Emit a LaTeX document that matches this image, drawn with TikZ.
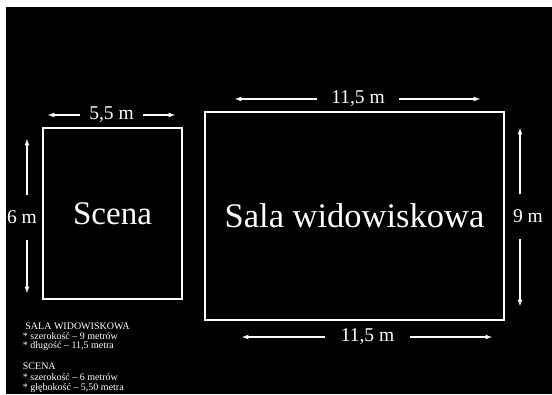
\documentclass[tikz,border=0pt]{standalone}
\usepackage{fontspec}
\setmainfont{Liberation Serif}
\usetikzlibrary{calc}

\begin{document}
\begin{tikzpicture}[x=1pt,y=-1pt,white,line width=1.2pt]
%
%''''''''''''''''''''''''''''Fonts''''''''''''''''''''''''''''''''''''''''''''''''''''''''
\def\scenafont{\fontsize{33}{38}\selectfont}
\def\salafont{\fontsize{34.5}{38}\selectfont}
\def\dimfont{\fontsize{19.5}{22}\selectfont}
\def\notefont{\fontsize{10}{12}\selectfont}
%''''''''''''''''''''''''''''''''''''''''''''''''''''''''''''''''''''''''''''''''''''''''''
%
% background
\fill[white](0,0)rectangle(552,394);
\fill[black](6,7)rectangle(552,394);
\useasboundingbox(0,0)rectangle(552,394);
%
% stage and hall
\node[draw,line width=1.5pt,minimum width=139pt,minimum height=171pt,font=\scenafont](scena) at (112.5,213.5){Scena};
\node[draw,line width=1.5pt,minimum width=299pt,minimum height=208pt,font=\salafont](sala) at (354.5,216){Sala widowiskowa};
%
% stage width
\node[font=\dimfont,inner xsep=8.5pt](scenaw) at (111.5,115){5,5 m};
\coordinate (scenawl) at (48,115);
\coordinate (scenawr) at (175,115);
\draw[-latex](scenaw.west)--(scenawl);
\draw[-latex](scenaw.east)--(scenawr);
%
% stage depth
\node[font=\dimfont,inner ysep=15pt](scenah) at (22,217.5){6 m};
\coordinate (scenaht) at (27,139);
\coordinate (scenahb) at (27,293);
\draw[-latex](scenah.north -| scenaht)--(scenaht);
\draw[-latex](scenah.south -| scenahb)--(scenahb);
%
% hall width (top)
\node[font=\dimfont,inner xsep=14pt](salawt) at (358,99){11,5 m};
\coordinate (salawtl) at (235,99);
\coordinate (salawtr) at (480,99);
\draw[-latex](salawt.west)--(salawtl);
\draw[-latex](salawt.east)--(salawtr);
%
% hall width (bottom)
\node[font=\dimfont,inner xsep=15.5pt](salawb) at (367.5,337){11,5 m};
\coordinate (salawbl) at (242,337);
\coordinate (salawbr) at (492,337);
\draw[-latex](salawb.west)--(salawbl);
\draw[-latex](salawb.east)--(salawbr);
%
% hall depth
\node[font=\dimfont,inner ysep=15pt](salah) at (528,216.5){9 m};
\coordinate (salaht) at (520,128);
\coordinate (salahb) at (520,306);
\draw[-latex](salah.north -| salaht)--(salaht);
\draw[-latex](salah.south -| salahb)--(salahb);
%
% notes
\node[font=\notefont,anchor=west](n1) at (19,326){~SALA WIDOWISKOWA};
\node[font=\notefont,anchor=west](n2) at (19,336){* szerokość – 9 metrów};
\node[font=\notefont,anchor=west](n3) at (19,346){* długość – 11,5 metra};
\node[font=\notefont,anchor=west](n4) at (19,366){SCENA};
\node[font=\notefont,anchor=west](n5) at (19,377){* szerokość – 6 metrów};
\node[font=\notefont,anchor=west](n6) at (19,388){* głębokość – 5,50 metra};
%
\end{tikzpicture}
\end{document}
